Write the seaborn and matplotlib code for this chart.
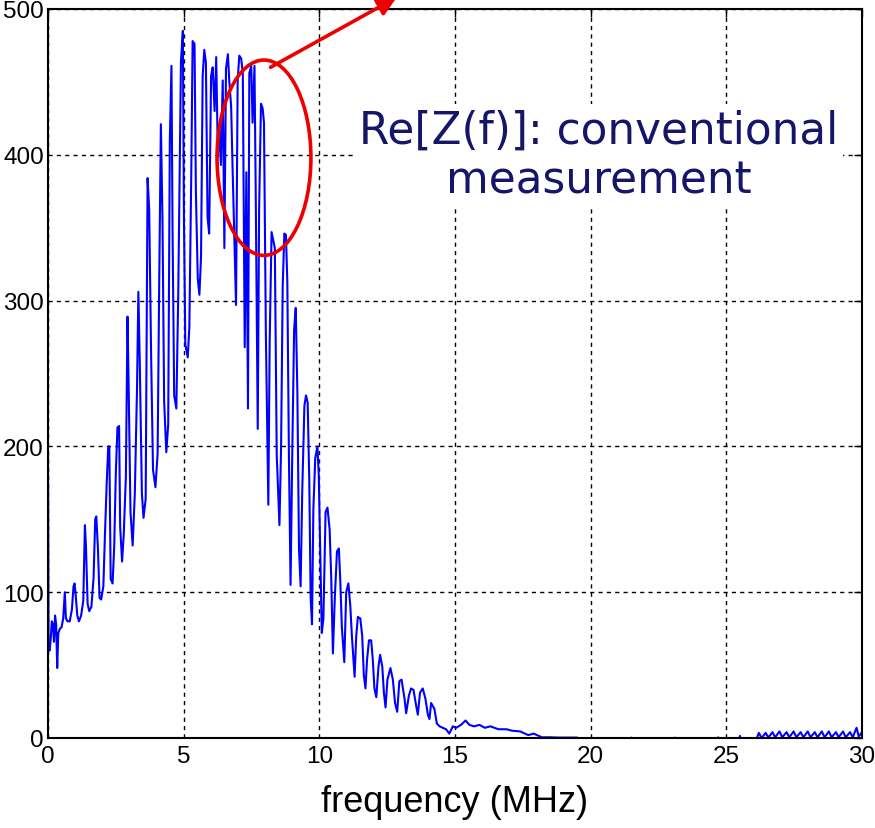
import matplotlib
matplotlib.use("Agg")
import matplotlib.pyplot as plt
from matplotlib.patches import Ellipse
import seaborn as sns
import pandas as pd

# ---- data ----
freq_low = [0.00, 0.02, 0.06, 0.10, 0.14, 0.18, 0.22, 0.26, 0.30, 0.34, 0.38, 0.44, 0.50, 0.56,
            0.62, 0.66, 0.72, 0.80, 0.88, 0.94, 0.98, 1.02, 1.08, 1.14, 1.22, 1.30, 1.36, 1.40,
            1.46, 1.52, 1.60, 1.68, 1.74, 1.78, 1.84, 1.90, 1.96, 2.04, 2.10, 2.16, 2.22, 2.26,
            2.31, 2.38, 2.44, 2.50, 2.56, 2.62]
re_low = [196, 62, 60, 68, 80, 78, 66, 84, 78, 48, 72, 75, 76, 82,
          100, 82, 80, 80, 88, 104, 106, 98, 84, 80, 84, 94, 146, 131,
          92, 87, 90, 110, 150, 152, 130, 96, 95, 104, 140, 173, 200, 200,
          109, 106, 131, 182, 213, 214]

freq_rise = [2.66, 2.73, 2.79, 2.87, 2.93, 2.97, 3.04, 3.12, 3.20, 3.28, 3.33, 3.38, 3.46, 3.52,
             3.60, 3.67, 3.73, 3.80, 3.87, 3.96, 4.04, 4.10, 4.16, 4.22, 4.28, 4.36, 4.43, 4.49,
             4.55, 4.59, 4.65, 4.73, 4.80, 4.90, 4.97, 5.01, 5.06, 5.15, 5.21, 5.28, 5.33, 5.40, 5.45]
re_rise = [145, 121, 139, 179, 289, 244, 155, 132, 168, 239, 306, 260, 168, 151,
           164, 384, 362, 263, 184, 172, 195, 315, 421, 355, 231, 196, 215, 410,
           461, 349, 235, 226, 304, 464, 485, 357, 270, 261, 282, 387, 478, 476, 375]

freq_peak = [5.52, 5.58, 5.64, 5.70, 5.76, 5.82, 5.88, 5.94, 6.01, 6.07, 6.14, 6.20, 6.26, 6.31,
             6.37, 6.44, 6.50, 6.56, 6.63, 6.68, 6.75, 6.80, 6.85, 6.93, 6.99, 7.05, 7.12, 7.18,
             7.25, 7.31, 7.37, 7.42, 7.49, 7.54, 7.61, 7.66, 7.73, 7.78, 7.85, 7.91, 7.96, 8.03,
             8.12, 8.17, 8.24, 8.36, 8.43, 8.53]
re_peak = [315, 304, 330, 454, 472, 463, 357, 346, 454, 460, 430, 467, 399, 420,
           393, 451, 336, 459, 469, 451, 433, 393, 357, 297, 451, 468, 466, 456,
           268, 388, 226, 456, 461, 422, 461, 365, 212, 362, 435, 432, 422, 276,
           160, 272, 347, 336, 194, 146]

freq_fall = [8.59, 8.65, 8.71, 8.77, 8.82, 8.88, 8.94, 9.00, 9.07, 9.13, 9.19, 9.25, 9.31, 9.37,
             9.45, 9.51, 9.57, 9.63, 9.68, 9.73, 9.78, 9.85, 9.93, 9.98, 10.03, 10.09, 10.15,
             10.23, 10.30, 10.38, 10.44, 10.50, 10.57, 10.65, 10.72, 10.77, 10.83, 10.92, 10.99,
             11.07, 11.14, 11.20, 11.30]
re_fall = [199, 310, 346, 345, 313, 192, 105, 192, 280, 295, 238, 130, 104, 169,
           228, 235, 230, 176, 96, 78, 157, 192, 200, 180, 130, 72, 82,
           155, 158, 143, 109, 58, 96, 128, 130, 109, 76, 52, 100,
           106, 91, 70, 42]

freq_tail = [11.36, 11.42, 11.51, 11.58, 11.64, 11.70, 11.76, 11.83, 11.91, 11.97, 12.03, 12.10,
             12.18, 12.24, 12.32, 12.38, 12.44, 12.51, 12.62, 12.71, 12.79, 12.87, 12.95, 13.03,
             13.14, 13.20, 13.30, 13.38, 13.47, 13.57, 13.63, 13.71, 13.81, 13.91, 14.00, 14.06,
             14.12, 14.24, 14.33, 14.43, 14.55, 14.67, 14.79, 14.92, 15.04, 15.22, 15.39, 15.53]
re_tail = [70, 83, 82, 70, 43, 34, 54, 67, 67, 54, 34, 28,
           49, 57, 49, 31, 21, 40, 48, 40, 24, 18, 39, 40,
           27, 17, 29, 34, 33, 22, 16, 31, 34, 27, 16, 13,
           24, 20, 10, 8, 7, 6, 3, 8, 7, 9, 12, 9]

freq_flat = [15.70, 15.90, 16.10, 16.30, 16.60, 16.90, 17.10, 17.40, 17.70, 17.90, 18.20, 18.50,
             18.80, 19.50, 19.80, 21.45, 21.50, 21.55, 23.05, 23.10, 23.15, 24.65, 24.70, 24.75,
             25.45, 25.50, 25.55, 26.10, 26.20, 26.30]
re_flat = [8, 9, 7, 8, 6, 6, 5, 4.5, 2, 3, 0.5, 0.5,
           0.3, 0.3, -3, -3, 0.3, -3, -3, 0.3, -3, -3, 0.5, -3,
           -3, 1.5, -3, -1, 3.5, 0]

freq_end = [26.45, 26.55, 26.70, 26.80, 26.96, 27.06, 27.22, 27.32, 27.48, 27.58, 27.74, 27.84,
            28.00, 28.10, 28.26, 28.36, 28.52, 28.62, 28.78, 28.88, 29.04, 29.14, 29.30, 29.40,
            29.56, 29.66, 29.80, 29.88, 30.00]
re_end = [3.5, 0.3, 4, 0.5, 4.5, 0.5, 4, 0.5, 4.5, 0.5, 4, 0.5,
          4.5, 0.5, 4, 0.5, 4.5, 0.5, 4.5, 0.5, 4, 0.5, 4.5, 0.5,
          4, 0.5, 7, 1, 4]

x_ticks = [0, 5, 10, 15, 20, 25, 30]
y_ticks = [0, 100, 200, 300, 400, 500]
x_label = "frequency (MHz)"
note_text = "Re[Z(f)]: conventional\nmeasurement"

df = pd.DataFrame({
    "f": freq_low + freq_rise + freq_peak + freq_fall + freq_tail + freq_flat + freq_end,
    "re": re_low + re_rise + re_peak + re_fall + re_tail + re_flat + re_end,
})

# ---- style ----
sns.set_theme(style="white")
plt.rcParams["font.family"] = ["Liberation Sans", "DejaVu Sans"]

fig = plt.figure(figsize=(8.75, 8.29), dpi=100)
ax = fig.add_axes([48 / 875, 90 / 829, (862 - 48) / 875, (739 - 10) / 829])

sns.lineplot(data=df, x="f", y="re", sort=False, estimator=None,
             color="#0000ff", linewidth=1.5, ax=ax)

ax.set_xlim(0, 30)
ax.set_ylim(0, 500)
ax.set_xticks(x_ticks)
ax.set_yticks(y_ticks)
ax.set_xticklabels([str(t) for t in x_ticks])
ax.set_yticklabels([str(t) for t in y_ticks])
ax.grid(True, color="black", linestyle=(0, (3, 3)), linewidth=1.0)
ax.set_axisbelow(True)
for s in ax.spines.values():
    s.set_color("black")
    s.set_linewidth(1.5)
ax.tick_params(direction="in", length=6, width=1, colors="black", labelsize=17.5,
               top=True, right=True, pad=3)
ax.tick_params(axis="x", pad=5)
ax.set_xlabel(x_label, fontsize=26, color="black", labelpad=12)
ax.set_ylabel("")

ax.text(20.3, 400, note_text, ha="center", va="center", fontsize=31.5,
        family=["DejaVu Sans"], color="#15156a", linespacing=1.2,
        bbox=dict(facecolor="white", edgecolor="none", pad=3), zorder=5)

ell = Ellipse((7.96, 398), width=3.46, height=134, fill=False,
              edgecolor="#ee0000", linewidth=2.6, zorder=6)
ax.add_patch(ell)
ax.annotate("", xy=(12.85, 508), xytext=(8.2, 460), annotation_clip=False,
            arrowprops=dict(arrowstyle="-|>", color="#ee0000", lw=2.6,
                            mutation_scale=28, shrinkA=0, shrinkB=0), zorder=6)

fig.savefig("out.png", dpi=100)
